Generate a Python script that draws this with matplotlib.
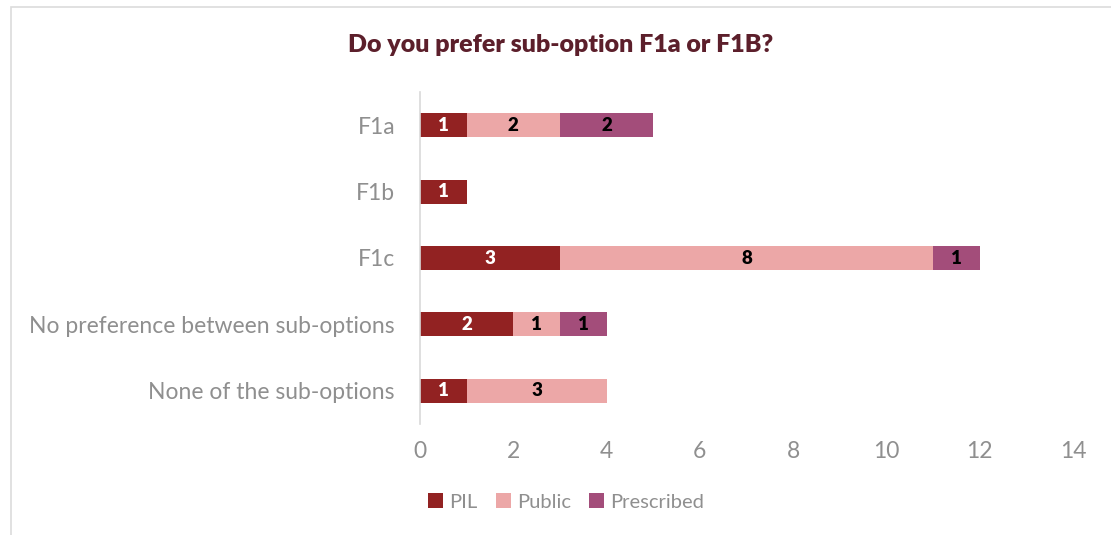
import numpy as np
import matplotlib

matplotlib.use('Agg')
import matplotlib.pyplot as plt
from matplotlib.patches import Rectangle

plt.rcParams['font.family'] = ['Lato', 'DejaVu Sans']

categories = ['F1a', 'F1b', 'F1c', 'No preference between sub-options',
              'None of the sub-options']
series = ['PIL', 'Public', 'Prescribed']
pil = [1, 1, 3, 2, 1]
public = [2, 0, 8, 1, 3]
prescribed = [2, 0, 1, 1, 0]
xticks = [0, 2, 4, 6, 8, 10, 12, 14]

colors = ['#922222', '#eca7a7', '#a34d7a']
label_colors = ['white', 'black', 'black']
grey = '#8f8f8f'

fig = plt.figure(figsize=(11.11, 5.35), dpi=100)
fig.patches.append(Rectangle((11 / 1111, -0.1), 1.2, 1 - 7 / 535 + 0.1,
                             transform=fig.transFigure, fill=False,
                             edgecolor='#dcdcdc', lw=1.2))
ax = fig.add_axes([420 / 1111, 111 / 535, 653 / 1111, 332 / 535])

y = np.arange(len(categories))
left = np.zeros(len(categories))
for name, vals, c, lc in zip(series, [pil, public, prescribed], colors, label_colors):
    vals = np.array(vals, dtype=float)
    bars = ax.barh(y, vals, left=left, height=0.36, color=c, label=name)
    for b, v in zip(bars, vals):
        if v > 0:
            ax.text(b.get_x() + b.get_width() / 2, b.get_y() + b.get_height() / 2,
                    f'{int(v)}', ha='center', va='center', color=lc,
                    fontsize=13.5, fontweight='heavy')
    left += vals

ax.set_xlim(0, 14)
ax.set_ylim(len(categories) - 0.5, -0.5)
ax.set_xticks(xticks)
ax.set_yticks(y)
ax.set_yticklabels(categories)
ax.tick_params(axis='both', length=0, colors=grey, labelsize=16.5)
ax.tick_params(axis='x', pad=12)
ax.tick_params(axis='y', pad=18)
for s in ['top', 'right', 'bottom']:
    ax.spines[s].set_visible(False)
ax.spines['left'].set_color('#d9d9d9')
ax.spines['left'].set_linewidth(1.2)

fig.text(561 / 1111, 1 - 45 / 535, 'Do you prefer sub-option F1a or F1B?',
         ha='center', va='center', fontsize=18, fontweight='heavy', color='#5c1f2b')

fig.legend(loc='center', bbox_to_anchor=(566 / 1111, 1 - 502 / 535), ncol=3,
           frameon=False, fontsize=14.5, labelcolor=grey, handlelength=0.75,
           handleheight=0.75, handletextpad=0.3, columnspacing=0.9)

fig.savefig('out.png', dpi=100)
